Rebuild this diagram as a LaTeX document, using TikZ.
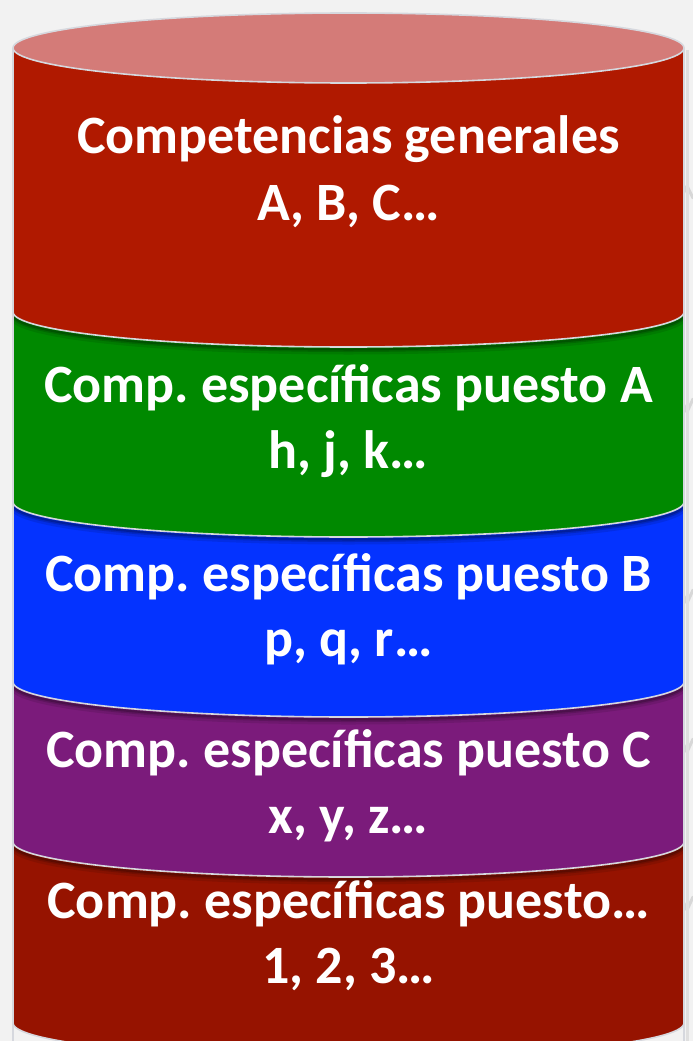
\documentclass[tikz,border=0pt]{standalone}
\usepackage{fontspec}
\setmainfont{Carlito}
\definecolor{bgc}{RGB}{242,242,242}
\definecolor{topc}{RGB}{212,123,120}
\definecolor{layA}{RGB}{176,25,0}
\definecolor{layB}{RGB}{0,137,0}
\definecolor{layC}{RGB}{4,51,255}
\definecolor{layD}{RGB}{123,27,123}
\definecolor{layE}{RGB}{150,19,0}
\definecolor{edgec}{RGB}{214,216,222}
\definecolor{markc}{RGB}{215,215,215}
\frenchspacing
\begin{document}
\begin{tikzpicture}[x=1pt,y=-1pt,
  lbl/.style={text=white,font=\bfseries\fontsize{54}{64}\selectfont,anchor=base,inner sep=0pt},
  tickmark/.style={draw=markc,line width=3pt,line cap=round,line join=round}]
\useasboundingbox (0,0) rectangle (693,1041);
\clip (0,0) rectangle (693,1041);
\fill[bgc] (0,0) rectangle (693,1041);
% small arrow marks behind the right edge
\coordinate (m1) at (687,186);
\draw[tickmark] (681,198) -- (m1) -- (693,198);
\foreach \t [count=\i from 2] in {412,603,752,910}{
  \coordinate (m\i) at (687,\t);
  \draw[tickmark] (m\i) -- (687,\t-22);
  \draw[tickmark] (681,\t-13) -- (m\i) -- (693,\t-13);
}
% soft shadow on right side
\draw[gray!25,line width=3pt] (687,50) -- (687,1041);
% layers
\foreach \a/\b/\c in {48/312/layA,312/502/layB,502/682/layC,682/842/layD,842/1023/layE}{
  \fill[\c] (13,\a) -- (13,\b)
    .. controls (13,\b+19.33) and (163.2,\b+35) .. (348.5,\b+35)
    .. controls (533.8,\b+35) and (684,\b+19.33) .. (684,\b)
    -- (684,\a)
    .. controls (684,\a+19.33) and (533.8,\a+35) .. (348.5,\a+35)
    .. controls (163.2,\a+35) and (13,\a+19.33) .. (13,\a) -- cycle;
}
% shadows and boundary lines
\begin{scope}
\clip (13,48) rectangle (684,1041);
\foreach \b in {312,502,682,842}{
  \foreach \o/\w/\op in {4/7/0.10,3/4/0.15,2.5/2/0.2}{
  \draw[black,opacity=\op,line width=\w pt] (13,\b+\o)
    .. controls (13,\b+19.33+\o) and (163.2,\b+35+\o) .. (348.5,\b+35+\o)
    .. controls (533.8,\b+35+\o) and (684,\b+19.33+\o) .. (684,\b+\o);
  }
}
\foreach \b in {312,502,682,842,1023}{
  \draw[edgec,line width=1.6pt] (13,\b)
    .. controls (13,\b+19.33) and (163.2,\b+35) .. (348.5,\b+35)
    .. controls (533.8,\b+35) and (684,\b+19.33) .. (684,\b);
}
\end{scope}
% top ellipse
\fill[topc,draw=edgec,line width=1.6pt] (348.5,48) ellipse [x radius=335.5, y radius=35];
% sides
\draw[edgec,line width=1.4pt] (13,48) -- (13,1041);
\draw[edgec,line width=1.4pt] (684,48) -- (684,1041);
% texts
\node[lbl] (t1a) at (348.5,153) {Competencias generales};
\node[lbl] (t1b) at (348.5,220) {A, B, C…};
\node[lbl] (t2a) at (348.5,402) {Comp. específicas puesto A};
\node[lbl] (t2b) at (348.5,468) {h, j, k…};
\node[lbl] (t3a) at (348.5,591) {Comp. específicas puesto B};
\node[lbl] (t3b) at (348.5,656) {p, q, r…};
\node[lbl] (t4a) at (348.5,767) {Comp. específicas puesto C};
\node[lbl] (t4b) at (348.5,833) {x, y, z…};
\node[lbl] (t5a) at (348.5,918) {Comp. específicas puesto…};
\node[lbl] (t5b) at (348.5,983) {1, 2, 3…};
\end{tikzpicture}
\end{document}
